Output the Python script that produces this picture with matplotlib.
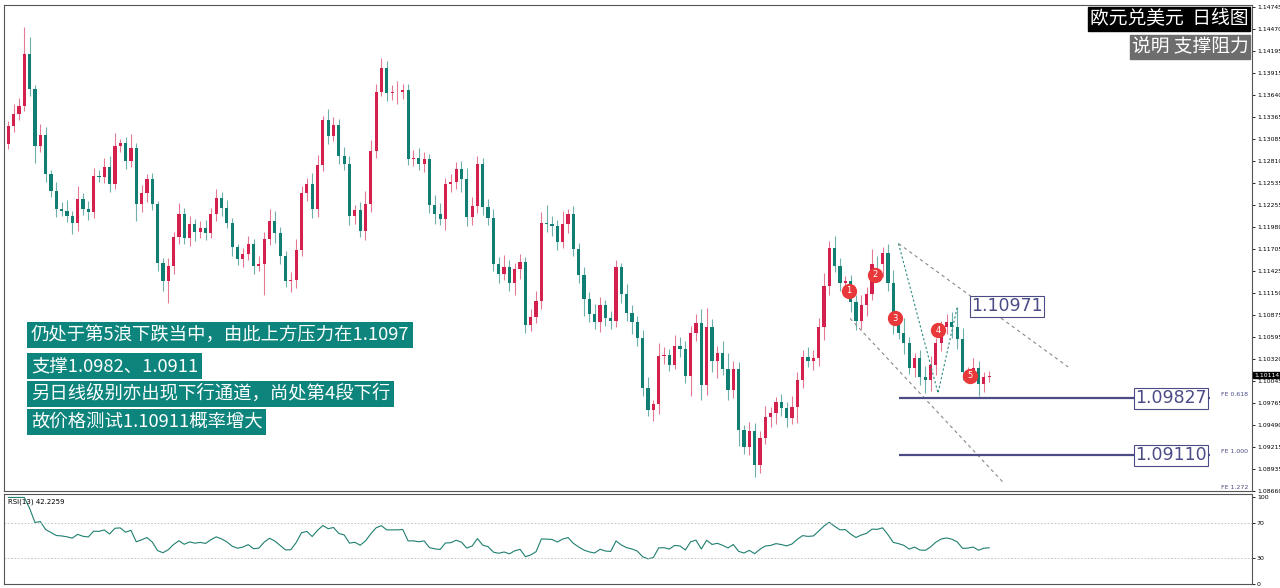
import matplotlib
matplotlib.use("Agg")
import matplotlib.pyplot as plt
from matplotlib import font_manager
import numpy as np
import pandas as pd
from matplotlib.patches import Rectangle

names = sorted({f.name for f in font_manager.fontManager.ttflist})
pref = [n for n in names if n == "Noto Sans CJK SC"] + [n for n in names if "Sans CJK SC" in n] \
     + [n for n in names if "Sans CJK" in n] + [n for n in names if "CJK" in n]
CJK = pref[0] if pref else "DejaVu Sans"
plt.rcParams["font.family"] = [CJK, "DejaVu Sans"]

first_open = 1.1325
closes = [
 1.1302,1.1325,1.1340,1.1350,1.1415,1.1372,1.1300,1.1314,1.1264,1.1243,
 1.1221,1.1218,1.1212,1.1203,1.1233,1.1221,1.1217,1.1262,1.1261,1.1273,
 1.1252,1.1300,1.1303,1.1281,1.1297,1.1227,1.1241,1.1258,1.1227,1.1153,
 1.1130,1.1149,1.1185,1.1214,1.1184,1.1202,1.1192,1.1197,1.1190,1.1214,
 1.1234,1.1222,1.1203,1.1173,1.1158,1.1164,1.1177,1.1149,1.1152,1.1183,
 1.1206,
 1.1190,1.1162,1.1130,1.1131,1.1169,1.1241,1.1252,1.1221,1.1276,1.1332,
 1.1312,1.1326,1.1287,1.1277,1.1212,1.1219,1.1193,1.1227,1.1293,1.1368,
 1.1398,1.1366,1.1367,1.1367,1.1370,1.1284,1.1285,1.1277,1.1284,1.1226,
 1.1214,1.1208,1.1252,1.1254,1.1271,1.1258,1.1211,1.1224,1.1277,1.1223,
 1.1209,1.1152,1.1139,1.1147,1.1127,1.1145,1.1154,1.1075,1.1085,1.1105,
 1.1203,
 1.1202,1.1199,1.1179,1.1202,1.1214,1.1170,1.1138,1.1108,1.1089,1.1078,
 1.1100,1.1084,1.1080,1.1147,1.1114,1.1090,1.1078,1.1058,1.0995,1.0968,
 1.0975,1.1036,1.1037,1.1025,1.1048,1.1044,1.1010,1.1065,1.1077,1.0999,
 1.1072,1.1030,1.1040,1.1020,1.0993,1.1020,1.0943,1.0921,1.0941,1.0899,
 1.0933,1.0959,1.0964,1.0978,1.0970,1.0958,1.0971,
 1.1005,1.1035,1.1030,1.1033,1.1072,1.1124,1.1172,1.1149,1.1127,1.1130,
 1.1103,1.1080,1.1100,1.1114,1.1152,1.1151,1.1165,1.1128,1.1075,1.1065,
 1.1052,1.1021,1.1033,1.1009,1.1006,1.1024,1.1052,1.1072,1.1079,1.1072,
 1.1057,1.1015,1.1016,1.1021,1.1000,1.1009,1.1011,
]
upper_pips = [
 8,6,12,10,34,22,4,14,10,6, 12,8,14,6,16,8,10,10,8,12,
 14,16,6,8,18,6,10,6,8,4, 6,10,6,14,8,10,6,8,10,8,
 12,8,10,6,4,8,10,6,10,8, 14,12,8,6,10,14,8,8,14,12,
 6,14,10,8,12,10,6,10,16,14, 10,12,8,10,14,8,8,10,12,8,
 6,12,14,8,10,8,10,14,12,10, 8,10,12,8,16,10,8,10,6,10,
 12,14,22,10,8,16,6,10,8,10, 8,12,10,6,8,10,6,12,10,8,
 10,14,6,16,10,8,14,12,10,8, 12,18,24,10,8,14,20,10,8,6,
 12,10,8,14,8,6,10,8,14,10, 8,12,10,12,16,8,14,10,6,8,
 10,12,8,18,10,8,12,16,6,18, 8,6,10,14,12,6,8,10,12,25,
 14,6,12,8,6,6,
]
lower_pips = [
 10,6,8,8,6,10,22,8,10,8, 10,6,8,14,10,8,10,8,6,8,
 10,6,8,10,8,22,10,12,8,10, 12,28,10,8,8,10,12,8,8,6,
 8,10,6,12,8,10,8,10,6,40, 8,12,10,8,14,10,8,10,12,10,
 8,10,6,10,8,12,10,8,12,10, 8,6,10,8,14,8,8,10,8,10,
 10,12,8,14,10,8,16,12,10,8, 10,8,10,12,8,10,14,12,10,8,
 8,10,10,12,10,8,12,8,10,22, 10,8,12,10,10,8,12,10,14,10,
 10,8,14,12,10,8,6,10,8,24, 10,18,12,14,22,8,12,10,20,8,
 10,16,10,8,12,14,10,12,8,20, 10,8,12,10,16,12,8,10,8,12,
 12,10,14,8,10,16,10,12,8,14, 8,12,10,17,14,12,10,8,14,12,
 10,8,10,14,10,6,
]
price_ticks = [1.14745,1.14470,1.14195,1.13915,1.13640,1.13365,1.13085,1.12810,
               1.12535,1.12255,1.11980,1.11705,1.11425,1.11150,1.10875,1.10595,
               1.10320,1.10045,1.09765,1.09490,1.09215,1.08935,1.08660]
fib_levels = [1.09827, 1.09110]
fib_names = ["FE 0.618", "FE 1.000"]
high_label = 1.10971
last_price = 1.10114
rsi_period = 13
title1 = "欧元兑美元  日线图"
title2 = "说明 支撑阻力"
notes = ["仍处于第5浪下跌当中，由此上方压力在1.1097",
         "支撑1.0982、1.0911",
         "另日线级别亦出现下行通道，尚处第4段下行",
         "故价格测试1.10911概率增大"]
wave_labels = ["1", "2", "3", "4", "5"]
wave_pos = [(158.7, 1.1118), (163.6, 1.1138), (167.4, 1.1083), (175.4, 1.1068), (181.4, 1.1011)]
chan_upper = [(168, 1.1177), (199.8, 1.1022)]
chan_lower = [(158.9, 1.1083), (187.6, 1.0877)]
zigzag = [(168, 1.1177), (175.4, 1.0989), (179, 1.10971)]

closes = np.array(closes)
opens = np.concatenate([[first_open], closes[:-1]])
highs = np.maximum(opens, closes) + np.array(upper_pips) * 1e-4
lows = np.minimum(opens, closes) - np.array(lower_pips) * 1e-4
n = len(closes)
idx = np.arange(n)

UP = "#d4204c"
DN = "#107e72"
SLATE = "#4b4b86"
NUMF = "DejaVu Sans"

fig = plt.figure(figsize=(12.8, 5.88), dpi=100)
ax = fig.add_axes([4/1280, 1-491/588, 1248/1280, 486/588])
ax2 = fig.add_axes([4/1280, 1-584/588, 1248/1280, 90/588])

for i in idx:
    c = UP if closes[i] >= opens[i] else DN
    ax.vlines(i, lows[i], highs[i], color=c, lw=0.8, alpha=0.6)
    b0 = min(opens[i], closes[i]); h = max(abs(closes[i]-opens[i]), 0.00006)
    ax.add_patch(Rectangle((i-0.3, b0), 0.6, h, color=c, lw=0))

ax.set_xlim(0.19, 234.3)
ax.set_ylim(1.08660, 1.14770)
ax.yaxis.tick_right()
ax.set_yticks(price_ticks)
ax.set_yticklabels([f"{t:.5f}" for t in price_ticks], fontsize=4.4, family=NUMF)
ax.tick_params(axis="y", length=2, pad=1.5, width=0.6)
ax.set_xticks([])
for s in ax.spines.values():
    s.set_color("#555555"); s.set_linewidth(0.8)

ax.plot(*zip(*chan_upper), ls=(0, (3, 3)), color="#888888", lw=0.8)
ax.plot(*zip(*chan_lower), ls=(0, (3, 3)), color="#888888", lw=0.8)
ax.plot(*zip(*zigzag), ls=(0, (2, 2)), color="#2a8a80", lw=0.8)

for lvl, name in zip(fib_levels, fib_names):
    ax.hlines(lvl, 168, 226.5, color=SLATE, lw=1.6)
    ax.text(228.5, lvl + 0.0001, name, fontsize=4.5, color=SLATE, family=NUMF, va="bottom")
    ax.text(219.1, lvl, f"{lvl:.5f}", fontsize=12.5, color=SLATE, ha="center", va="center",
            family=NUMF, bbox=dict(boxstyle="square,pad=0.08", fc="white", ec=SLATE, lw=0.8))
ax.text(228.5, 1.08670, "FE 1.272", fontsize=4.5, color=SLATE, family=NUMF, va="bottom")
ax.text(181.6, high_label + 0.0001, f"{high_label:.5f}", fontsize=12.5, color=SLATE, ha="left", va="center",
        family=NUMF, bbox=dict(boxstyle="square,pad=0.08", fc="white", ec=SLATE, lw=0.8))

for lab, (x, y) in zip(wave_labels, wave_pos):
    ax.plot(x, y, "o", ms=10, color="#e8383a", mec="#e8383a")
    ax.text(x, y, lab, fontsize=6, color="white", ha="center", va="center", family=NUMF)

ax.text(1.0 + 2/1248, last_price, f"{last_price:.5f}", transform=ax.get_yaxis_transform(),
        fontsize=4.4, color="white", va="center", ha="left", family=NUMF,
        bbox=dict(boxstyle="square,pad=0.1", fc="black", ec="black"), zorder=10)

ax.text(0.997, 0.993, title1, transform=ax.transAxes, ha="right", va="top", fontsize=13.5, color="white",
        family=CJK, bbox=dict(boxstyle="square,pad=0.1", fc="black", ec="black"))
ax.text(0.997, 0.935, title2, transform=ax.transAxes, ha="right", va="top", fontsize=13.5, color="white",
        family=CJK, bbox=dict(boxstyle="square,pad=0.1", fc="#6d6d6d", ec="#6d6d6d"))

note_y = [335, 366, 394, 422]
for t, py in zip(notes, note_y):
    fig.text(31/1280, 1-py/588, t, fontsize=13.2, color="white", va="center", ha="left", family=CJK,
             bbox=dict(boxstyle="square,pad=0.2", fc="#0d847c", ec="none"))

s = pd.Series(closes)
d = s.diff()
gain = d.clip(lower=0).ewm(alpha=1/rsi_period, adjust=False).mean()
loss = (-d.clip(upper=0)).ewm(alpha=1/rsi_period, adjust=False).mean()
rsi = (100 - 100/(1 + gain/loss)).fillna(50)
ax2.plot(idx[1:], rsi[1:], color="#1f7f70", lw=0.8)
for lv in (70, 30):
    ax2.axhline(lv, color="#bbbbbb", ls=(0, (2, 2)), lw=0.6)
ax2.set_xlim(0.19, 234.3)
ax2.set_ylim(0, 104)
ax2.yaxis.tick_right()
ax2.set_yticks([0, 30, 70, 100])
ax2.set_yticklabels(["0", "30", "70", "100"], fontsize=4.5, family=NUMF)
ax2.tick_params(axis="y", length=2, pad=1.5, width=0.6)
ax2.set_xticks([])
for sp in ax2.spines.values():
    sp.set_color("#555555"); sp.set_linewidth(0.8)
ax2.text(0.003, 0.95, f"RSI({rsi_period}) 42.2259", transform=ax2.transAxes, fontsize=5,
         va="top", family=NUMF)

fig.savefig("out.png", dpi=100)
